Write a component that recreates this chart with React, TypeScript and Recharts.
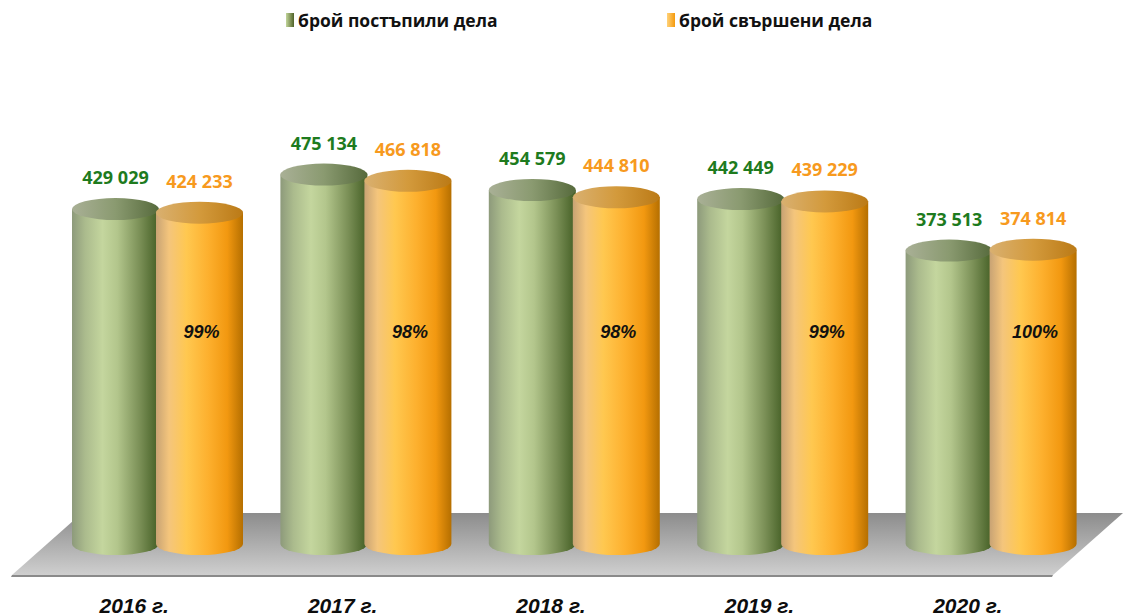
import React from 'react';
import { BarChart, Bar, XAxis, YAxis, Legend, LabelList, Customized } from 'recharts';

const years = ['2016 г.', '2017 г.', '2018 г.', '2019 г.', '2020 г.'];
const received = [429029, 475134, 454579, 442449, 373513];
const completed = [424233, 466818, 444810, 439229, 374814];
const ratios = ['99%', '98%', '98%', '99%', '100%'];

const SERIES_RECEIVED = 'брой постъпили дела';
const SERIES_COMPLETED = 'брой свършени дела';

const data = years.map((y, i) => ({
  year: y,
  received: received[i],
  completed: completed[i],
  ratio: ratios[i],
}));

const fmt = (v: number) => String(v).replace(/\B(?=(\d{3})+(?!\d))/g, ' ');

const RY = 11;
const DEPTH = 14;

const makeCylinder = (bodyId: string, topId: string) => (props: any) => {
  const { x, y, width, height } = props;
  if (width == null || height == null) return null;
  const rx = width / 2;
  const topY = y;
  const botY = y + height + DEPTH;
  const d = `M ${x} ${topY} L ${x} ${botY} A ${rx} ${RY} 0 0 0 ${x + width} ${botY} L ${x + width} ${topY} Z`;
  return (
    <g>
      <path d={d} fill={`url(#${bodyId})`} />
      <ellipse cx={x + rx} cy={topY} rx={rx} ry={RY} fill={`url(#${topId})`} />
    </g>
  );
};

const GreenCylinder = makeCylinder('gBody', 'gTop');
const OrangeCylinder = makeCylinder('oBody', 'oTop');

const Floor = (props: any) => {
  const off = props.offset || {};
  const left = off.left ?? 53;
  const width = off.width ?? 1042;
  const top = off.top ?? 156;
  const height = off.height ?? 374;
  const bottom = top + height;
  const tY = bottom - 17;
  const bY = bottom + 45;
  const pts = `${left + 29},${tY} ${left + width + 28},${tY} ${left + width - 42},${bY} ${left - 41},${bY}`;
  const pts2 = `${left - 41},${bY} ${left + width - 42},${bY} ${left + width - 43},${bY + 2} ${left - 42},${bY + 2}`;
  return (
    <g>
      <polygon points={pts} fill="url(#floorGrad)" />
      <polygon points={pts2} fill="#8a8a8a" />
    </g>
  );
};

const ValueLabel = (color: string) => (props: any) => {
  const { x, y, width, value } = props;
  return (
    <text
      x={x + width / 2}
      y={y - 32}
      textAnchor="middle"
      dominantBaseline="central"
      fill={color}
      fontFamily="'Open Sans', sans-serif"
      fontWeight={700}
      fontSize={18}
    >
      {fmt(Number(value))}
    </text>
  );
};

const RatioLabel = (props: any) => {
  const { x, width, value } = props;
  return (
    <text
      x={x + width / 2 + 2}
      y={332}
      textAnchor="middle"
      dominantBaseline="central"
      fill="#111"
      fontFamily="'Liberation Sans', sans-serif"
      fontWeight={700}
      fontStyle="italic"
      fontSize={18}
    >
      {value}
    </text>
  );
};

const YearTick = (props: any) => {
  const { x, y, payload } = props;
  return (
    <text
      x={x - 23}
      y={y + 83}
      textAnchor="middle"
      fill="#0d0d0d"
      fontFamily="'Liberation Sans', sans-serif"
      fontWeight={700}
      fontStyle="italic"
      fontSize={21}
    >
      {payload.value}
    </text>
  );
};

const LegendContent = () => (
  <div style={{ position: 'relative', height: 40, width: 1123, fontFamily: "'Open Sans', sans-serif", fontWeight: 700, fontSize: 17.5, color: '#111' }}>
    <div style={{ position: 'absolute', left: 286, top: 0, display: 'flex', alignItems: 'center', height: 28 }}>
      <span style={{ display: 'inline-block', width: 8, height: 14, background: 'linear-gradient(to right, #c3d69b, #4f6228)', marginRight: 4 }} />
      <span>{SERIES_RECEIVED}</span>
    </div>
    <div style={{ position: 'absolute', left: 667, top: 0, display: 'flex', alignItems: 'center', height: 28 }}>
      <span style={{ display: 'inline-block', width: 8, height: 14, background: 'linear-gradient(to right, #ffd27a, #f59a0c)', marginRight: 4 }} />
      <span>{SERIES_COMPLETED}</span>
    </div>
  </div>
);

export default function App() {
  return (
    <div style={{ position: 'absolute', left: 0, top: 0, width: 1123, height: 616, background: '#fff' }}>
      <BarChart
        width={1123}
        height={616}
        data={data}
        margin={{ top: 116, right: 28, bottom: 0, left: 53 }}
        barSize={87}
        barGap={-3}
      >
        <defs>
          <linearGradient id="gBody" x1="0" y1="0" x2="1" y2="0">
            <stop offset="0%" stopColor="#8d9a7b" />
            <stop offset="15%" stopColor="#abbb8d" />
            <stop offset="35%" stopColor="#c4d69e" />
            <stop offset="52%" stopColor="#b3c68c" />
            <stop offset="78%" stopColor="#7a8f56" />
            <stop offset="100%" stopColor="#435e24" />
          </linearGradient>
          <linearGradient id="gTop" x1="0" y1="0" x2="1" y2="0">
            <stop offset="0%" stopColor="#a9b096" />
            <stop offset="50%" stopColor="#8a9a70" />
            <stop offset="100%" stopColor="#566a3c" />
          </linearGradient>
          <linearGradient id="oBody" x1="0" y1="0" x2="1" y2="0">
            <stop offset="0%" stopColor="#c8a374" />
            <stop offset="15%" stopColor="#f4c57c" />
            <stop offset="35%" stopColor="#ffc850" />
            <stop offset="60%" stopColor="#fdb02e" />
            <stop offset="82%" stopColor="#f29810" />
            <stop offset="100%" stopColor="#b56f00" />
          </linearGradient>
          <linearGradient id="oTop" x1="0" y1="0" x2="1" y2="0">
            <stop offset="0%" stopColor="#d9b070" />
            <stop offset="50%" stopColor="#d39a3c" />
            <stop offset="100%" stopColor="#bb7a16" />
          </linearGradient>
          <linearGradient id="floorGrad" x1="0" y1="0" x2="0" y2="1">
            <stop offset="0%" stopColor="#8c8c8c" />
            <stop offset="100%" stopColor="#cfcfcf" />
          </linearGradient>
        </defs>
        <Customized component={Floor} />
        <XAxis dataKey="year" axisLine={false} tickLine={false} tickSize={0} tickMargin={0} height={86} tick={<YearTick />} interval={0} />
        <YAxis hide domain={[0, 500000]} />
        <Legend verticalAlign="top" align="left" content={<LegendContent />} wrapperStyle={{ top: 6, left: 0, width: 1123, height: 40 }} />
        <Bar dataKey="received" name={SERIES_RECEIVED} shape={<GreenCylinder />} isAnimationActive={false}>
          <LabelList dataKey="received" content={ValueLabel('#1e7b1e')} />
        </Bar>
        <Bar dataKey="completed" name={SERIES_COMPLETED} shape={<OrangeCylinder />} isAnimationActive={false}>
          <LabelList dataKey="completed" content={ValueLabel('#f79a1e')} />
          <LabelList dataKey="ratio" content={RatioLabel} />
        </Bar>
      </BarChart>
    </div>
  );
}
